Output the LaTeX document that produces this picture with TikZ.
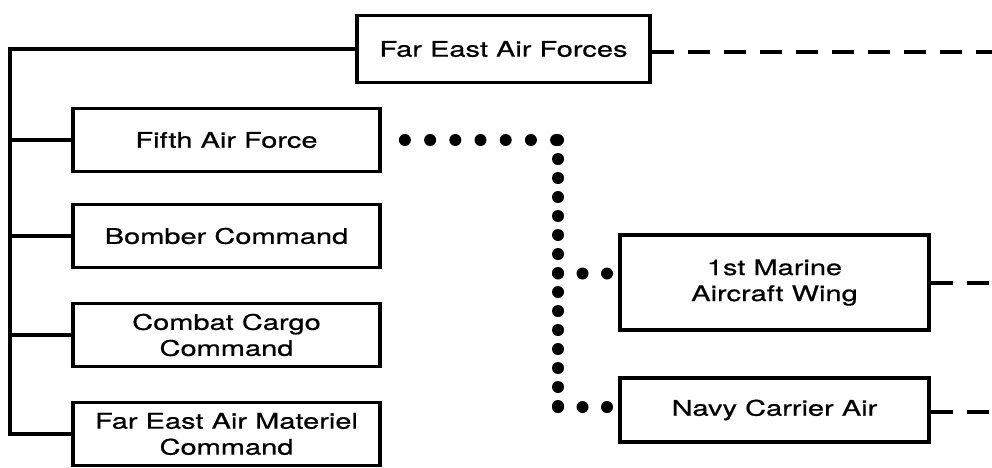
\documentclass[tikz,border=0pt]{standalone}
\usepackage{fontspec}
\setmainfont{TeX Gyre Heros}[FakeStretch=1.35, FakeBold=0.6]
\begin{document}
\begin{tikzpicture}[x=1pt,y=-1pt,
  unitbox/.style={draw=black, line width=3.8pt, minimum width=307pt, minimum height=63pt,
    inner sep=0pt, align=center, font=\fontsize{21.5}{26}\selectfont},
  solidline/.style={draw=black, line width=3.6pt},
  dashline/.style={draw=black, line width=3.6pt, dash pattern=on 22pt off 14pt},
  dotline/.style={draw=black, line width=12pt, line cap=round},
]
\useasboundingbox (0,0) rectangle (992,467);
% boxes
\node[unitbox, minimum width=293pt, minimum height=67pt] (feaf) at (503.5,49) {Far East Air Forces};
\node[unitbox] (fifth) at (226.5,140) {Fifth Air Force};
\node[unitbox] (bomber) at (226.5,236) {Bomber Command};
\node[unitbox] (cargo) at (226.5,335) {Combat Cargo\\Command};
\node[unitbox] (feamc) at (226.5,434) {Far East Air Materiel\\Command};
\node[unitbox, minimum width=309pt, minimum height=95pt] (marine) at (774.5,282.5) {1st Marine\\Aircraft Wing};
\node[unitbox, minimum width=309pt, minimum height=64pt] (navy) at (774.5,410) {Navy Carrier Air};
% solid hierarchy bus
\coordinate (bustop) at (10,49);
\coordinate (busbot) at (10,434);
\draw[solidline] (feaf.west) -- (bustop) -- (busbot) -- (feamc.west);
\draw[solidline] (fifth.west) -- (fifth.west -| bustop);
\draw[solidline] (bomber.west) -- (bomber.west -| bustop);
\draw[solidline] (cargo.west) -- (cargo.west -| bustop);
% dashed lines to the right edge
\coordinate (rfeaf) at (992,52);
\coordinate (rmarine) at (992,283);
\coordinate (rnavy) at (992,412);
\draw[dashline] (feaf.east |- rfeaf) -- (rfeaf);
\draw[dashline] (marine.east |- rmarine) -- (rmarine);
\draw[dashline] (navy.east |- rnavy) -- (rnavy);
% dotted coordination lines
\coordinate (d0) at ([xshift=23pt]fifth.east);
\coordinate (dc) at (558,140);
\coordinate (dm) at (558,273.5);
\coordinate (dn) at (558,407);
\draw[dotline, dash pattern=on 0pt off 25.2pt] (d0) -- (dc);
\draw[dotline, dash pattern=on 0pt off 19pt] (dc) -- (dn);
\draw[dotline, dash pattern=on 0pt off 24.5pt] (dm) -- ([xshift=-10pt]dm -| marine.west);
\draw[dotline, dash pattern=on 0pt off 24.5pt] (dn) -- ([xshift=-10pt]dn -| navy.west);
\end{tikzpicture}
\end{document}
